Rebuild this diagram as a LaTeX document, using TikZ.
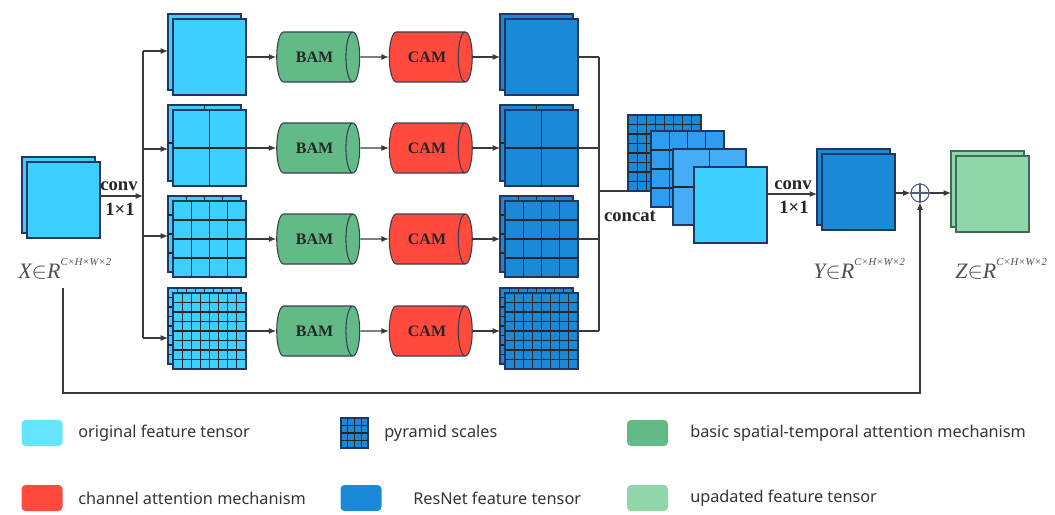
\documentclass[tikz,border=0pt]{standalone}
\usepackage{fontspec}
\setmainfont{Liberation Serif}
\newfontfamily\legfont{Noto Sans}
\usetikzlibrary{shapes.geometric,arrows.meta,calc}
\definecolor{cyanT}{HTML}{3CCFFF}
\definecolor{blueT}{HTML}{1A8AD8}
\definecolor{blueB}{HTML}{2E9CF0}
\definecolor{blueC}{HTML}{45ACF6}
\definecolor{greenZ}{HTML}{90D6A9}
\definecolor{bamG}{HTML}{62BB87}
\definecolor{camR}{HTML}{FF4A3D}
\definecolor{legCyan}{HTML}{66E3FF}
\definecolor{tBorder}{HTML}{25365E}
\definecolor{zBorder}{HTML}{3F6B5A}
\definecolor{cylB}{HTML}{3A3F4F}
\definecolor{lineC}{HTML}{3A3A3A}
\definecolor{labC}{HTML}{505050}
\definecolor{legT}{HTML}{333333}
\newcommand\gridin[2]{%
  \ifnum#2>1
    \pgfmathtruncatemacro\gm{#2-1}%
    \foreach \i in {1,...,\gm}{%
      \draw[gridl] ($(#1.north west)!\i/#2!(#1.north east)$) -- ($(#1.south west)!\i/#2!(#1.south east)$);
      \draw[gridl] ($(#1.north west)!\i/#2!(#1.south west)$) -- ($(#1.north east)!\i/#2!(#1.south east)$);
    }%
  \fi}
\newcommand\tpair[6][tBorder]{%
  \node[tensor, draw=#1, fill=#5] (#2b) at ({#3-5},{#4-5}) {};
  \gridin{#2b}{#6}
  \node[tensor, draw=#1, fill=#5] (#2) at (#3,#4) {};
  \gridin{#2}{#6}}
\begin{document}
\begin{tikzpicture}[x=0.75pt,y=-0.75pt,
  tensor/.style={line width=0.8pt, minimum width=54.75pt, minimum height=57pt, inner sep=0pt, outer sep=0pt, anchor=north west},
  gridl/.style={draw=black!85, line width=0.8pt},
  cyl/.style={cylinder, draw=cylB, line width=0.8pt, minimum width=37.5pt, minimum height=62.25pt, aspect=1.3, inner sep=0pt, font=\bfseries\fontsize{12}{14}\selectfont, text=black!85},
  arr/.style={draw=lineC, line width=0.8pt, -{Latex[length=5.5pt,width=4.5pt]}},
  ln/.style={draw=lineC, line width=0.8pt},
  lblb/.style={font=\bfseries\fontsize{14}{16}\selectfont, text=black!85, inner sep=0pt},
  mlab/.style={font=\fontsize{16.5}{18}\selectfont\itshape, text=labC, inner sep=0pt, anchor=base west},
  sw/.style={minimum width=30.75pt, minimum height=19.5pt, rounded corners=3pt, inner sep=0pt},
  legt/.style={font=\legfont\fontsize{12.2}{14}\selectfont, text=legT, anchor=west, inner sep=0pt}]
\useasboundingbox (0,0) rectangle (1055,514);

% input
\tpair{xin}{27}{162}{cyanT}{1}
\node[mlab] (xl) at (18,278) {X$\in$R\raisebox{0.55em}{\fontsize{8}{8}\selectfont C×H×W×2}};

% pyramid branches
\tpair{t1}{173}{19}{cyanT}{1}
\tpair{t2}{173}{110}{cyanT}{2}
\tpair{t3}{173}{201}{cyanT}{4}
\tpair{t4}{173}{293}{cyanT}{8}

\tpair{o1}{505}{19}{blueT}{1}
\tpair{o2}{505}{110}{blueT}{2}
\tpair{o3}{505}{201}{blueT}{4}
\tpair{o4}{505}{293}{blueT}{8}

\foreach \r/\yy in {1/57,2/148,3/239,4/331}{
  \node[cyl, fill=bamG] (bam\r) at (314.5,\yy) {BAM};
  \node[cyl, fill=camR] (cam\r) at (427,\yy) {CAM};
}

% left bus
\coordinate (lb1) at (143,51);
\coordinate (lb2) at (143,149);
\coordinate (lb3) at (143,236);
\coordinate (lb4) at (143,338);
\coordinate (lbin) at (143,196);
\draw[ln] (lb1) -- (lb4);
\draw[arr] (xin.east |- lbin) -- (lbin);
\node[lblb] (cv1) at (119,186) {conv};
\node[lblb] (cv1b) at (120,209) {1×1};
\foreach \r in {1,...,4}{
  \draw[arr] (lb\r) -- (lb\r -| t\r b.west);
  \draw[arr] (t\r.east) -- (bam\r.west);
  \draw[arr] (bam\r.east) -- (cam\r.west);
  \draw[arr] (cam\r.east) -- (cam\r.east -| o\r b.west);
}

% right bus
\foreach \r/\yy in {1/57,2/148,3/239,4/331}{
  \coordinate (rb\r) at (599,\yy);
  \draw[ln] (o\r.east |- rb\r) -- (rb\r);
}
\draw[ln] (rb1) -- (rb4);

% concat
\node[tensor, draw=tBorder, fill=blueT] (c1) at (628,115) {};
\gridin{c1}{8}
\node[tensor, draw=tBorder, fill=blueB] (c2) at (651,131) {};
\gridin{c2}{4}
\node[tensor, draw=tBorder, fill=blueC] (c3) at (673,149) {};
\gridin{c3}{2}
\node[tensor, draw=tBorder, fill=cyanT] (c4) at (694,167) {};
\draw[ln] (rb1 |- c1.south west) -- (c1.south west);
\node[lblb] (cc) at (630,216) {concat};

% Y
\tpair{yo}{822}{154}{blueT}{1}
\coordinate (ya) at (800,194);
\draw[arr] (c4.east |- ya) -- (yob.west |- ya);
\node[lblb] (cv2) at (793,185) {conv};
\node[lblb] (cv2b) at (794,207) {1×1};
\node[mlab] (yl) at (813,278) {Y$\in$R\raisebox{0.55em}{\fontsize{8}{8}\selectfont C×H×W×2}};

% plus
\node[circle, draw=tBorder!80, line width=0.8pt, minimum size=13.5pt, inner sep=0pt] (plus) at (920,193) {};
\draw[draw=tBorder!80, line width=0.8pt] (plus.north) -- (plus.south) (plus.west) -- (plus.east);
\draw[arr] (yo.east |- plus) -- (plus.west);

% Z
\tpair[zBorder]{zo}{956}{156}{greenZ}{1}
\draw[arr] (plus.east) -- (plus.east -| zob.west);
\node[mlab] (zl) at (955,278) {Z$\in$R\raisebox{0.55em}{\fontsize{8}{8}\selectfont C×H×W×2}};

% skip
\coordinate (s0) at (63,288);
\coordinate (s1) at (63,393);
\draw[arr] (s0) -- (s1) -| (plus.south);

% legend
\node[sw, fill=legCyan] (l1) at (42,433) {};
\node[legt] (l1t) at (78,433) {original feature tensor};
\node[minimum width=20.25pt, minimum height=22.5pt, inner sep=0pt, outer sep=0pt, draw=tBorder, line width=0.8pt, fill=blueT] (l2) at (354.5,433) {};
\gridin{l2}{4}
\node[legt] (l2t) at (384,433) {pyramid scales};
\node[sw, fill=bamG] (l3) at (647.5,433) {};
\node[legt] (l3t) at (690,433) {basic spatial-temporal attention mechanism};
\node[sw, fill=camR] (l4) at (42,498) {};
\node[legt] (l4t) at (78,498) {channel attention mechanism};
\node[sw, fill=blueT] (l5) at (361,498) {};
\node[legt] (l5t) at (413,498) {ResNet feature tensor};
\node[sw, fill=greenZ] (l6) at (647.5,498) {};
\node[legt] (l6t) at (690,498) {upadated feature tensor};
\end{tikzpicture}
\end{document}
